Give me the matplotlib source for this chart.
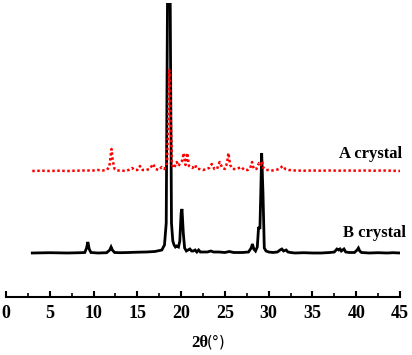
import matplotlib
matplotlib.use("Agg")
import matplotlib.pyplot as plt
from matplotlib.ticker import MultipleLocator

# B crystal (black) pattern: 2theta and intensity (arbitrary units)
b_theta = [3.0, 5.0, 7.0, 8.5, 9.0, 9.2, 9.35, 9.5, 9.7, 10.5, 11.5, 11.85, 12.0, 12.15, 12.4,
           13.0, 14.0, 15.0, 16.0, 17.0, 17.8, 18.1, 18.3, 18.45, 18.6, 18.75, 18.9, 19.05,
           19.2, 19.35, 19.5, 19.7, 19.85, 20.0, 20.1, 20.25, 20.4, 20.6, 20.8, 21.0, 21.2,
           21.4, 21.6, 21.8, 22.0, 22.2, 22.5, 23.0, 23.4, 23.7, 24.3, 25.0, 25.5, 26.0,
           27.0, 27.7, 28.0, 28.15, 28.3, 28.5, 28.7, 28.85, 29.0, 29.1, 29.2, 29.35, 29.5,
           29.7, 30.0, 30.5, 31.0, 31.3, 31.5, 31.7, 32.0, 32.2, 32.5, 33.0, 34.0, 35.0,
           36.0, 37.0, 37.5, 37.8, 38.0, 38.15, 38.3, 38.6, 38.8, 39.2, 39.8, 40.1, 40.25,
           40.4, 40.6, 41.5, 42.5, 43.5, 44.2, 45.0]
b_int = [0, 0.3, 0, 0.3, 0.5, 5, 11, 4, 0.5, 0, 0.3, 3, 6, 3, 0.5,
         0.3, 0.5, 0.8, 1, 1.5, 3, 8, 30, 260, 320, 260, 30, 12,
         8, 6, 7, 6, 12, 40, 44, 20, 5, 2, 3, 4, 2,
         2, 3, 1, 3, 1, 1, 1, 2, 1, 1, 0.5, 1.5, 0.5,
         0.5, 1, 5, 9, 4, 2, 6, 26, 24, 60, 100, 60, 5,
         2, 1, 0.5, 1, 3, 4, 2, 3, 1, 0.5, 0, 0.3, 0,
         0, 0.5, 1, 4, 3, 4, 2, 4, 1, 0.5, 0.5, 3, 5,
         2, 0.5, 0, 0.3, 0, 0.3, 0]

# A crystal (red) pattern
a_theta = [3.0, 4.0, 5.0, 6.0, 7.0, 8.0, 9.0, 10.0, 10.5, 11.0, 11.5, 11.8, 11.95, 12.05,
           12.2, 12.4, 12.7, 13.2, 13.6, 14.0, 14.4, 14.7, 15.0, 15.3, 15.6, 16.0, 16.4,
           16.8, 17.1, 17.4, 17.8, 18.1, 18.4, 18.55, 18.65, 18.8, 18.95, 19.2, 19.5, 19.7,
           19.9, 20.1, 20.3, 20.5, 20.7, 20.9, 21.1, 21.3, 21.6, 21.8, 22.1, 22.5, 22.9,
           23.2, 23.5, 23.8, 24.1, 24.4, 24.7, 25.0, 25.25, 25.4, 25.6, 25.9, 26.2, 26.6,
           26.9, 27.2, 27.6, 27.9, 28.1, 28.3, 28.6, 28.9, 29.1, 29.25, 29.4, 29.7, 30.0,
           30.4, 30.8, 31.2, 31.6, 31.9, 32.3, 33.0, 34.0, 35.0, 36.0, 37.0, 38.0, 39.0,
           40.0, 41.0, 42.0, 43.0, 44.0, 45.0]
a_int = [0, 0.3, 0, 0.3, 0, 0.3, 0.5, 0.5, 1, 0.5, 1, 4, 15, 22,
         10, 2, 0.5, 0.5, 0, 1, 3, 1, 1, 5, 1, 1, 2,
         7, 2, 1, 4, 2, 8, 60, 101, 60, 6, 3, 9, 5,
         8, 10, 18, 6, 18, 5, 4, 3, 6, 2, 2, 1, 2,
         3, 7, 2, 2, 9, 3, 2, 8, 18, 6, 2, 2, 3,
         4, 1, 1, 3, 9, 2, 2, 8, 6, 10, 3, 1, 1,
         0.5, 1, 2, 5, 2, 1, 0.5, 0.3, 0.5, 0.3, 0.5, 0.3, 0.5,
         0.3, 0.5, 0.3, 0.5, 0.3, 0]

b_offset = 44
a_offset = 126

xticks = [0, 5, 10, 15, 20, 25, 30, 35, 40, 45]

plt.rcParams['font.family'] = ['Liberation Serif', 'DejaVu Serif']

fig = plt.figure(figsize=(4.12, 3.55), dpi=100)
ax = fig.add_axes([6/412, 58/355, 394/412, 294/355])

ax.plot(b_theta, [v + b_offset for v in b_int], color='black', lw=2.0, solid_joinstyle='miter')
ax.plot(a_theta, [v + a_offset for v in a_int], color='#ff0000', lw=1.8, linestyle=(0, (1, 1)))

ax.set_xlim(0, 45)
ax.set_ylim(0, 294)

for s in ['left', 'right', 'top']:
    ax.spines[s].set_visible(False)
ax.spines['bottom'].set_linewidth(1.5)
ax.set_yticks([])
ax.set_xticks(xticks)
ax.xaxis.set_minor_locator(MultipleLocator(2.5))
ax.tick_params(axis='x', which='major', direction='in', length=4, width=1.5, pad=6,
               labelsize=13)
ax.tick_params(axis='x', which='minor', direction='in', length=3, width=1.2)
for lab in ax.get_xticklabels():
    lab.set_fontweight('bold')

ax.text(45.2, 143, 'A crystal', ha='right', va='center', fontsize=12, fontweight='bold')
ax.text(45.7, 64, 'B crystal', ha='right', va='center', fontsize=12, fontweight='bold')

fig.text(191/412, 1 - 343/355, r'2θ', ha='left', va='center', fontsize=12, fontweight='bold')
fig.text(207/412, 1 - 342/355, '(°)', ha='left', va='center', fontsize=10.5,
         family=['DejaVu Sans'])

fig.savefig('out.png', dpi=100)
